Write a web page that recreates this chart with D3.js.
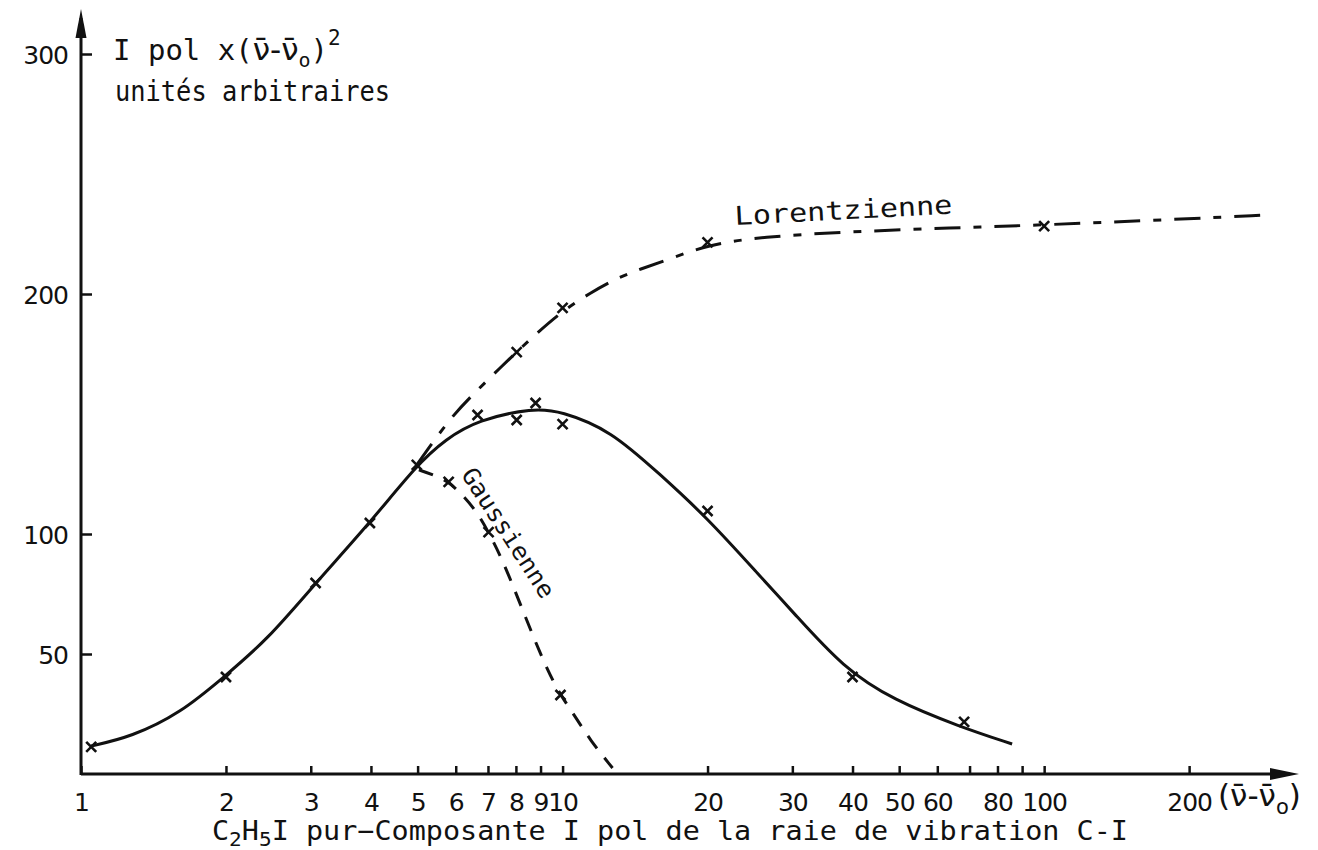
<!DOCTYPE html>
<html><head><meta charset="utf-8">
<script src="https://cdn.jsdelivr.net/npm/d3@7"></script>
<style>
body{margin:0;background:#fff;}
text{font-family:"DejaVu Sans Mono",monospace;fill:#111;}
.sans{font-family:"DejaVu Sans",sans-serif;}
</style>
</head><body>
<svg id="c" width="1318" height="850"></svg>
<script>
// ---------- data ----------
const xTickValues = [1,2,3,4,5,6,7,8,9,10,20,30,40,50,60,70,80,90,100,200];
const xTickLabels = ["1","2","3","4","5","6","7","8","9","10","20","30","40","50","60","","80","","100","200"];
const yTickValues = [50,100,200,300];
const yTickLabels = ["50","100","200","300"];

// measured curve (solid line)
const mesCurveX = [1.05,1.27,1.61,1.98,2.44,3.07,3.98,4.98,5.72,6.66,8.71,9.9,12.58,15.97,19.9,25.8,30.2,38.3,48.6,67.0,85.8];
const mesCurveY = [11.7,15.4,25.4,40.4,56.0,79.6,104.6,128.8,139.5,147.5,152.5,151.2,143.3,124.6,107.1,82.1,67.1,44.2,30.8,19.6,12.5];
// measured points (crosses)
const mesPtsX = [1.05,2,3.07,3.98,4.98,6.66,8.03,8.79,10,20,40,68.2];
const mesPtsY = [11.3,40.4,79.6,104.6,128.8,149.6,147.5,154.6,145.8,109.6,40.4,21.7];

// Lorentzian
const lorCurveX = [4.98,5.86,6.66,7.44,8.03,8.71,10.0,11.4,13.0,14.5,16.5,20.0,25.8,39.6,63.8,100,166,297];
const lorCurveY = [128.8,148.8,160.0,169.5,175.8,182.5,193.0,200.4,206.7,210.4,214.2,220.5,223.8,226.0,227.5,228.8,230.6,233.0];
const lorPtsX = [8.03,10,20,100];
const lorPtsY = [175.8,194.2,221.5,228.3];

// Gaussian
const gauCurveX = [5.03,5.40,5.80,6.14,6.60,7.02,7.51,8.07,8.71,9.31,9.90,10.64,11.4,12.7];
const gauCurveY = [126.7,124.6,121.7,117.1,110.0,100.8,89.0,73.5,56.8,43.1,32.9,23.75,14.2,2.5];
const gauPtsX = [5.8,7.02,9.9];
const gauPtsY = [121.7,100.8,32.9];

// ---------- drawing ----------
const svg = d3.select("#c");
const ink = "#111";
const x = d3.scaleLog().domain([1, 335]).range([81, 1297]);
const y = d3.scaleLinear().domain([0, 300]).range([774, 54]);

// x axis
const xAxis = d3.axisBottom(x).tickValues(xTickValues)
  .tickFormat((d,i)=>xTickLabels[i]).tickSize(-8).tickSizeOuter(0);
const gx = svg.append("g").attr("transform","translate(0,774)").call(xAxis);
gx.select(".domain").remove();
gx.selectAll(".tick line").attr("stroke",ink).attr("stroke-width",2.5);
gx.selectAll(".tick text").attr("y",37).attr("dy",0).attr("fill",ink)
  .style("font-size","25px").style("font-family","DejaVu Sans, sans-serif")
  .style("letter-spacing","-1px");

// y axis
const yAxis = d3.axisLeft(y).tickValues(yTickValues)
  .tickFormat((d,i)=>yTickLabels[i]).tickSize(-11).tickSizeOuter(0);
const gy = svg.append("g").attr("transform","translate(81,0)").call(yAxis);
gy.select(".domain").remove();
gy.selectAll(".tick line").attr("stroke",ink).attr("stroke-width",2.5);
gy.selectAll(".tick text").attr("x",-13).attr("dy","0.36em").attr("fill",ink)
  .style("font-size","25px").style("font-family","DejaVu Sans, sans-serif")
  .style("letter-spacing","-1px");

// axis lines with arrows
svg.append("line").attr("x1",x(1)).attr("x2",1290).attr("y1",y(0)).attr("y2",y(0))
  .attr("stroke",ink).attr("stroke-width",3);
svg.append("line").attr("x1",x(1)).attr("x2",x(1)).attr("y1",y(0)+1).attr("y2",18)
  .attr("stroke",ink).attr("stroke-width",3);
svg.append("path").attr("d",`M${x(1)},9 L${x(1)-5.5},38 L${x(1)+5.5},38 Z`).attr("fill",ink);
svg.append("path").attr("d",`M1299,${y(0)} L1270,${y(0)-6} L1270,${y(0)+6} Z`).attr("fill",ink);

// curves
const line = d3.line().x(d=>x(d[0])).y(d=>y(d[1])).curve(d3.curveBasis);
const zip = (a,b)=>a.map((v,i)=>[v,b[i]]);

svg.append("path").datum(zip(mesCurveX,mesCurveY)).attr("d",line)
  .attr("fill","none").attr("stroke",ink).attr("stroke-width",3);
svg.append("path").datum(zip(lorCurveX,lorCurveY)).attr("d",line)
  .attr("fill","none").attr("stroke",ink).attr("stroke-width",3)
  .attr("stroke-dasharray","26,13,8,13");
svg.append("path").datum(zip(gauCurveX,gauCurveY)).attr("d",line)
  .attr("fill","none").attr("stroke",ink).attr("stroke-width",3)
  .attr("stroke-dasharray","15,12");

// crosses
function crosses(px,py){
  svg.append("g").selectAll("path").data(zip(px,py)).join("path")
    .attr("d",d=>{const cx=x(d[0]), cy=y(d[1]), s=5;
      return `M${cx-s},${cy-s}L${cx+s},${cy+s}M${cx-s},${cy+s}L${cx+s},${cy-s}`;})
    .attr("stroke",ink).attr("stroke-width",2.6).attr("fill","none");
}
crosses(mesPtsX,mesPtsY);
crosses(lorPtsX,lorPtsY);
crosses(gauPtsX,gauPtsY);

// labels
const t1 = svg.append("text").attr("x",113).attr("y",60).style("font-size","29px");
t1.append("tspan").text("I pol x(");
t1.append("tspan").attr("class","sans").style("font-size","31px").text("ν̄-ν̄");
t1.append("tspan").attr("dy",7).style("font-size","20px").text("o");
t1.append("tspan").attr("dy",-7).text(")");
t1.append("tspan").attr("dy",-15).style("font-size","21px").text("2");

svg.append("text").attr("x",115).attr("y",101).style("font-size","28px")
  .attr("textLength",275).attr("lengthAdjust","spacingAndGlyphs").text("unités arbitraires");

const xl = svg.append("text").attr("x",212).attr("y",840).style("font-size","27px")
  .attr("textLength",916).attr("lengthAdjust","spacingAndGlyphs");
xl.append("tspan").text("C");
xl.append("tspan").attr("dy",6).style("font-size","20px").text("2");
xl.append("tspan").attr("dy",-6).text("H");
xl.append("tspan").attr("dy",6).style("font-size","20px").text("5");
xl.append("tspan").attr("dy",-6).text("I pur\u2212Composante  I pol de la raie de vibration C-I");

const nu = svg.append("text").attr("class","sans").attr("x",1218).attr("y",806).style("font-size","31px");
nu.append("tspan").text("(ν̄-ν̄");
nu.append("tspan").attr("dy",8).style("font-size","21px").text("o");
nu.append("tspan").attr("dy",-8).text(")");

svg.append("text").attr("transform","translate(735,225) rotate(-3)")
  .style("font-size","26px").attr("textLength",218).attr("lengthAdjust","spacingAndGlyphs")
  .text("Lorentzienne");

svg.append("text").attr("transform","translate(508,533) rotate(57)")
  .attr("text-anchor","middle").attr("dominant-baseline","central")
  .style("font-size","24px").attr("textLength",150).attr("lengthAdjust","spacingAndGlyphs")
  .text("Gaussienne");
</script>
</body></html>
